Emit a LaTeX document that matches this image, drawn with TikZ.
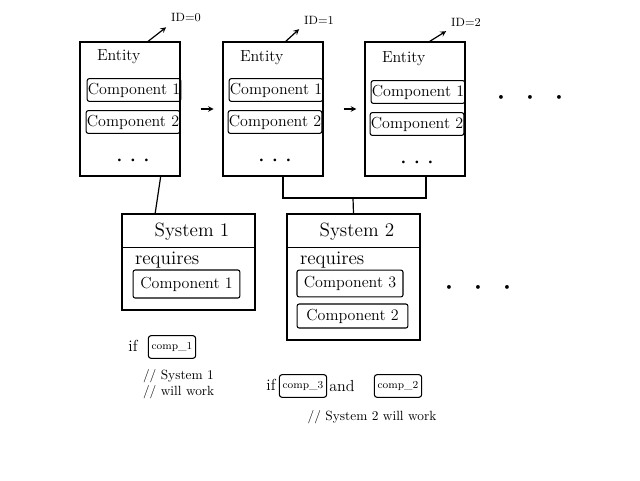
\documentclass[tikz,border=0pt]{standalone}
\usepackage{tikz}
\usetikzlibrary{positioning}
\tikzset{
    entity/.style={shape=rectangle, draw=black, line width=0.9pt, minimum width=75pt, minimum height=100.5pt},
    system/.style={shape=rectangle, draw=black, line width=0.9pt, minimum width=99.75pt},
    comp/.style={shape=rectangle, draw=black, line width=0.8pt, rounded corners=1.5pt, minimum width=68pt, minimum height=17pt, inner sep=0.5pt, font=\large},
    tag/.style={shape=rectangle, draw=black, line width=0.8pt, rounded corners=2pt, inner sep=2.5pt, minimum height=17pt, font=\footnotesize},
    title/.style={font=\large, anchor=west},
    idlabel/.style={font=\small},
    >=stealth}
\newcommand{\dotrow}{\textbullet\hspace{4pt}\textbullet\hspace{4pt}\textbullet}
\newcommand{\bigdots}{\textbullet\hspace{14pt}\textbullet\hspace{14pt}\textbullet}

\begin{document}
\begin{tikzpicture}[x=0.75pt, y=-0.75pt, line width=0.9pt]
    \useasboundingbox (0,0) rectangle (640,480);

    \node[entity] (E0) at (130,109) {};
    \node[entity] (E1) at (273,109) {};
    \node[entity] (E2) at (415,109) {};

    \node[title] (t0) at (92,57) {Entity};
    \node[title] (t1) at (235,58) {Entity};
    \node[title] (t2) at (377,59) {Entity};

    \node[comp] (c01) at (134,90) {Component 1};
    \node[comp] (c02) at (133,122) {Component 2};
    \node[comp] (c11) at (276,90) {Component 1};
    \node[comp] (c12) at (275,122) {Component 2};
    \node[comp] (c21) at (418,92) {Component 1};
    \node[comp] (c22) at (417,124) {Component 2};

    \node[font=\scriptsize] (d0) at (133,161) {\dotrow};
    \node[font=\scriptsize] (d1) at (275,161) {\dotrow};
    \node[font=\scriptsize] (d2) at (417,163) {\dotrow};

    \node[idlabel] (id0) at (186,18) {ID=0};
    \node[idlabel] (id1) at (319,20) {ID=1};
    \node[idlabel] (id2) at (466,22) {ID=2};

    \draw[->] ([xshift=13.5pt]E0.north) -- (id0.south west);
    \draw[->] ([xshift=9.5pt]E1.north) -- (id1.south west);
    \draw[->] ([xshift=11pt]E2.north) -- (id2.south west);

    \draw[->, shorten <=15pt, shorten >=6.5pt] (E0.east) -- (E1.west);
    \draw[->, shorten <=15pt, shorten >=6pt] (E1.east) -- (E2.west);

    \node (more1) at (530,98) {\bigdots};

    \node[system, minimum height=72pt] (S1) at (188.5,262) {};
    \node[system, minimum height=94.5pt] (S2) at (353.5,277) {};

    \node[font=\Large] (s1) at (192,232) {System 1};
    \node[font=\Large] (s2) at (357,232) {System 2};
    \draw ([yshift=-25.5pt]S1.north west) -- ([yshift=-25.5pt]S1.north east);
    \draw ([yshift=-25.5pt]S2.north west) -- ([yshift=-25.5pt]S2.north east);

    \node[title, font=\Large] (r1) at (130,260) {requires};
    \node[title, font=\Large] (r2) at (295,260) {requires};

    \node[comp, minimum width=80pt, minimum height=21pt] (k11) at (186.5,284) {Component 1};
    \node[comp, minimum width=79.5pt, minimum height=20pt] (k23) at (350,283.5) {Component 3};
    \node[comp, minimum width=83pt, minimum height=18pt] (k22) at (352.5,316) {Component 2};

    \node (more2) at (478,288) {\bigdots};

    \coordinate (bar) at (353,198);
    \draw ([xshift=23pt]E0.south) -- ([xshift=-25pt]S1.north);
    \draw ([xshift=7.5pt]E1.south) |- (bar) -| ([xshift=8.25pt]E2.south);
    \draw (bar) -- (S2.north);

    \node[font=\large] (if1) at (133,346) {if};
    \node[tag] (comp1) at (172,347) {comp\_1};
    \node[align=left, anchor=west] (note1) at (138,384) {// System 1\\// will work};

    \node[font=\large] (if2) at (271,385) {if};
    \node[tag] (comp3) at (303,386) {comp\_3};
    \node[font=\large] (and) at (342,386) {and};
    \node[tag] (comp2) at (398,386) {comp\_2};
    \node (note2) at (372,417) {// System 2 will work};

\end{tikzpicture}
\end{document}
